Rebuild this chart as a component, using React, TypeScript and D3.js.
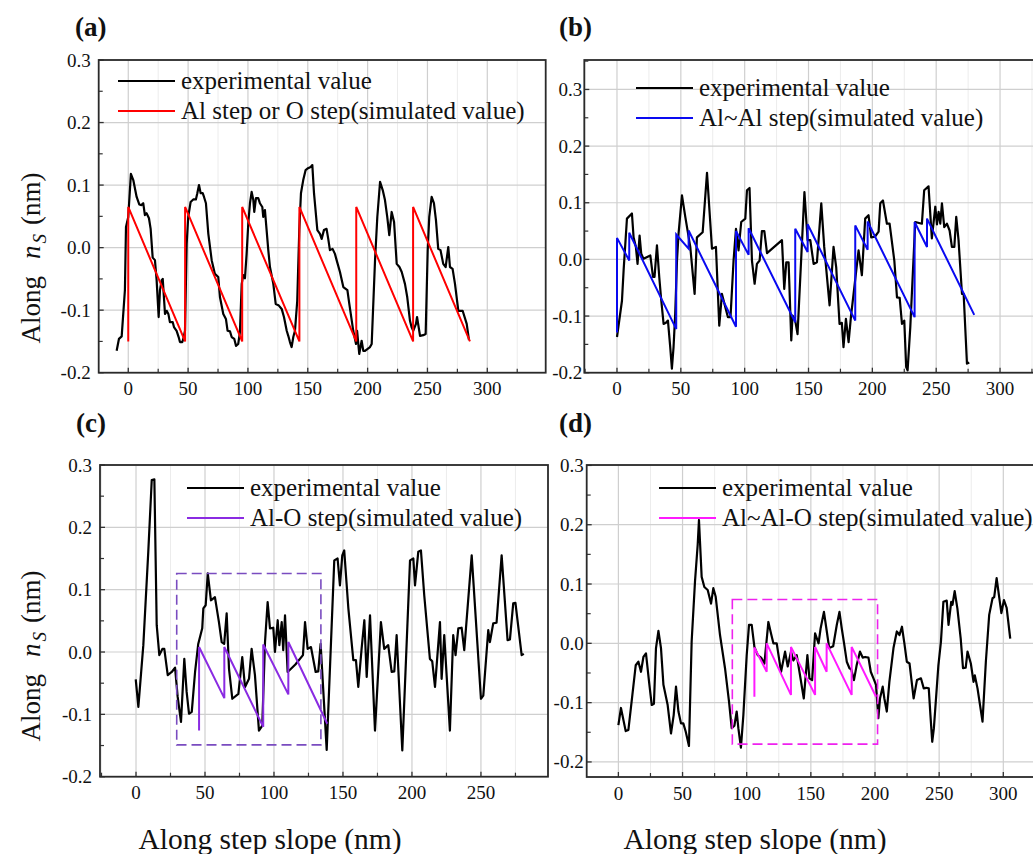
import React from 'react';
import * as d3 from 'd3';

type P = [number, number];

// ---------- data ----------
const expA: P[] = [[-9.7,-0.165],[-7.8,-0.146],[-5.5,-0.142],[-2.8,-0.068],[-1.9,0.033],[0,0.049],[2.2,0.118],[4.2,0.108],[7,0.081],[9.2,0.069],[11.1,0.068],[12.5,0.071],[13.9,0.052],[15.3,0.055],[17.3,0.047],[18.7,0.030],[20.4,-0.016],[22.3,-0.020],[23.7,-0.052],[25.4,-0.111],[26.5,-0.068],[27.9,-0.052],[28.8,-0.050],[30.7,-0.106],[32.1,-0.101],[33.5,-0.106],[34.8,-0.119],[37.1,-0.119],[38.2,-0.127],[40.4,-0.133],[42.1,-0.143],[43.2,-0.151],[45.1,-0.151],[46,-0.146],[47.4,-0.133],[48.8,0.006],[50.1,0.049],[52.1,0.073],[54.3,0.077],[56.5,0.077],[57.7,0.087],[59.1,0.100],[60.5,0.087],[62.2,0.087],[63.3,0.081],[64.9,0.071],[66.9,0.022],[69.7,-0.020],[72.4,-0.042],[75.2,-0.047],[76.6,-0.079],[79.4,-0.106],[81.6,-0.114],[83,-0.133],[85,-0.134],[86.4,-0.143],[88.6,-0.146],[90,-0.157],[91.9,-0.154],[93.3,-0.135],[94.8,-0.058],[96.1,-0.044],[97.5,-0.049],[98.9,-0.010],[100.3,0.039],[101.7,0.071],[103.1,0.089],[104.5,0.076],[105.3,0.057],[106.7,0.079],[108.6,0.079],[110,0.071],[112,0.065],[112.8,0.049],[114.2,0.060],[115.6,0.028],[117,-0.004],[118.4,-0.031],[121.2,-0.058],[123.2,-0.090],[125.5,-0.092],[128.2,-0.098],[130.1,-0.111],[132.4,-0.133],[133.7,-0.141],[135.1,-0.151],[136.5,-0.159],[137.9,-0.143],[139.3,-0.133],[141.2,-0.085],[142.9,0.028],[144.3,0.087],[146.2,0.108],[148.2,0.124],[150.2,0.127],[152.4,0.129],[153.8,0.132],[155.2,0.087],[158,0.028],[160.2,0.022],[161.6,0.014],[163.5,0.028],[165.7,0.030],[167.1,0.014],[168.5,-0.004],[170.7,-0.002],[172.7,-0.010],[174.1,-0.020],[176.9,-0.039],[179.7,-0.063],[183.1,-0.068],[184.7,-0.090],[188,-0.133],[190.3,-0.154],[191.2,-0.133],[193,-0.170],[195,-0.149],[196.4,-0.165],[197.8,-0.165],[202,-0.159],[203.4,-0.154],[206.2,-0.020],[208.1,0.049],[210.4,0.105],[212.6,0.092],[214.5,0.076],[216.4,0.049],[218.1,0.020],[220.1,0.057],[222.1,0.041],[224.3,-0.026],[226.6,-0.031],[228.5,-0.039],[231.2,-0.058],[233.1,-0.079],[235.4,-0.117],[236.7,-0.127],[238.1,-0.133],[240.4,-0.122],[241.3,-0.111],[243.8,-0.141],[246.5,-0.140],[248.5,-0.138],[250.2,-0.004],[251.5,0.049],[253.5,0.081],[255.4,0.071],[257.1,0.044],[259,-0.002],[260.9,-0.004],[263.2,-0.026],[265.2,-0.031],[267.4,0.001],[268.8,-0.031],[271,-0.034],[273,-0.058],[275.8,-0.101],[279.4,-0.101],[282.8,-0.122],[284.7,-0.148]];

const simA: P[] = [[0,-0.15],[0,0.065],[47.5,-0.15],[47.5,0.065],[95.2,-0.15],[95.2,0.065],[143,-0.15],[143,0.065],[190.5,-0.15],[190.5,0.065],[238,-0.15],[238,0.065],[285.5,-0.15]];

const expB: P[] = [[0,-0.137],[3.9,-0.073],[5.2,-0.019],[7.8,0.072],[11.7,0.081],[13,0.039],[14.8,0.022],[16.1,-0.008],[17.7,0.042],[19,0.010],[20.8,0.001],[26.1,0.007],[28.2,-0.031],[29.4,-0.031],[31.3,0.025],[33.1,-0.031],[34.7,-0.073],[36.5,-0.114],[38.3,-0.112],[39.9,-0.108],[41.7,-0.155],[43,-0.193],[44.3,-0.155],[45.6,-0.096],[47,-0.002],[48.2,0.045],[50.9,0.113],[53.5,0.075],[57.4,0.022],[60.8,-0.061],[62.6,0.039],[67.1,0.048],[70.5,0.153],[74.4,0.019],[77.5,0.022],[80.1,-0.117],[82.2,-0.061],[84.8,-0.084],[86.9,-0.102],[88.9,-0.102],[91.3,-0.002],[93.2,0.054],[95.2,0.016],[97.3,0.066],[100.5,0.072],[101.8,0.122],[103.8,0.126],[105.7,-0.002],[107.8,-0.043],[109.6,-0.008],[111.7,-0.002],[113.5,0.050],[115.4,0.050],[117.5,0.011],[129.2,0.034],[131,-0.052],[132.6,-0.005],[134.4,-0.005],[136.5,-0.143],[137.5,-0.099],[139.6,-0.108],[141.4,-0.132],[146.8,0.119],[149.3,0.034],[151.4,0.034],[154,-0.008],[156.6,-0.005],[160,0.099],[162.3,0.022],[166.5,-0.081],[169.6,0.022],[171.7,-0.014],[174.3,-0.114],[176.1,-0.112],[177.4,-0.155],[179.3,-0.105],[181.4,-0.146],[183.2,-0.102],[189.2,0.016],[191.8,-0.028],[194.4,0.072],[197,0.078],[199.1,0.039],[202,0.040],[204.9,0.049],[206.2,0.099],[208.3,0.104],[211.4,0.063],[213.5,0.063],[217.2,-0.002],[219.3,-0.067],[221.4,-0.068],[223.2,-0.114],[225,-0.108],[226.5,-0.19],[227.6,-0.196],[229.7,-0.12],[233.6,0.066],[238.8,0.063],[240.6,0.122],[244,0.129],[246.6,0.037],[249.3,0.093],[250.6,0.062],[251.9,0.084],[253.2,0.063],[254.5,0.099],[256.3,0.057],[258.4,0.063],[260.5,0.051],[262.3,0.022],[264.2,0.022],[265.7,0.075],[267.5,0.034],[270.2,-0.061],[271.5,-0.061],[274.1,-0.184],[275.9,-0.182]];

const simB: P[] = [[0,-0.129],[0,0.038],[9.6,-0.002],[9.6,0.047],[46.4,-0.123],[46.4,0.044],[56.1,0.019],[56.1,0.051],[93.2,-0.119],[93.2,0.050],[103.1,0.008],[103.1,0.055],[139.6,-0.111],[139.6,0.054],[149.3,0.013],[149.3,0.062],[186.6,-0.108],[186.6,0.060],[196.3,0.017],[196.3,0.067],[233.1,-0.102],[233.1,0.066],[242.8,0.022],[242.8,0.072],[279.8,-0.098]];

const expC: P[] = [[-0.2,-0.044],[1.7,-0.088],[5.3,0.011],[8.9,0.161],[11.4,0.276],[13.3,0.277],[15,0.043],[16.9,-0.005],[19.1,0.005],[20.5,0.005],[23,-0.037],[25.9,-0.032],[28.3,-0.025],[30.2,-0.072],[32.6,-0.112],[35,-0.011],[36.7,-0.064],[38.4,-0.099],[40.4,-0.096],[42.8,-0.032],[45.1,0.013],[48,0.038],[48.8,0.070],[50.5,0.075],[52,0.126],[54.3,0.083],[57.2,0.088],[60.1,0.048],[62.1,0.016],[63.9,0.013],[65.7,0.062],[67.4,-0.027],[69.8,-0.075],[74.2,-0.067],[77,-0.008],[79,-0.056],[81.9,-0.043],[83.8,0.005],[86.2,-0.037],[89.1,-0.126],[91.5,-0.118],[93.5,0.016],[95.4,0.080],[97.1,0.038],[99.5,0.039],[100.7,0],[102.7,0.051],[103.9,0.011],[105.6,0.048],[106.7,0.003],[108,0.059],[109.9,-0.032],[115.5,-0.02],[121,-0.005],[122.5,0.048],[124.4,0.005],[126.8,0.008],[130.2,-0.032],[132.1,-0.031],[133.8,0.013],[138.2,-0.157],[143.7,0.147],[146.1,0.150],[147.8,0.107],[149.5,0.155],[150.9,0.163],[153.9,0.070],[157.5,-0.013],[159.4,-0.013],[161.1,-0.056],[163.5,0.005],[165.5,0.051],[167.2,-0.040],[169.6,0.059],[173.2,-0.126],[177.5,0.048],[179.9,0.005],[182.8,0.011],[185.3,-0.032],[187.2,-0.031],[188.9,0.027],[193,-0.158],[198.6,0.147],[201,0.150],[202.2,0.107],[204.6,0.161],[206.5,0.163],[208.9,0.091],[213,-0.011],[214.7,-0.015],[216.7,-0.056],[220.3,0.048],[221.5,-0.043],[223.4,0.027],[227.5,-0.126],[229.9,0.027],[231.6,-0.005],[233.6,0.038],[236,0.039],[237.9,0.003],[243.3,0.155],[250,-0.075],[251.7,-0.070],[255.3,0.035],[256.5,0.016],[258.9,0.046],[261.3,0.047],[265,0.155],[269.3,0.019],[271,0.020],[273.4,0.078],[275,0.079],[279.5,-0.005],[281.1,-0.003]];

const simC: P[] = [[45.7,-0.126],[45.7,0.008],[64,-0.074],[64,0.008],[92.2,-0.120],[92.2,0.012],[110.4,-0.068],[110.4,0.016],[138.6,-0.115]];

const expD: P[] = [[0,-0.138],[2,-0.109],[5.7,-0.148],[7.8,-0.146],[10.9,-0.087],[13.5,-0.037],[15.6,-0.031],[17.6,-0.048],[19.5,-0.023],[21.5,-0.017],[23.9,-0.065],[26,-0.104],[27.7,-0.102],[29.3,-0.008],[31.2,0.021],[33.2,-0.008],[35.1,-0.070],[38.4,-0.104],[41,-0.152],[43.1,-0.121],[44.9,-0.073],[46.8,-0.115],[48.8,-0.135],[50.6,-0.135],[52.5,-0.149],[55,-0.173],[57.1,0.003],[59.7,0.104],[61.8,0.166],[62.8,0.208],[64.9,0.112],[67,0.095],[69.6,0.090],[72.2,0.067],[74,0.093],[75.8,0.079],[79.2,0.014],[83.1,-0.042],[86.2,-0.098],[88.3,-0.143],[90.4,-0.139],[92.2,-0.115],[93.5,-0.143],[95.5,-0.176],[97.4,-0.121],[100,-0.020],[101.8,0.031],[103.9,0.031],[106,-0.006],[108.6,-0.020],[111.2,-0.024],[113.8,-0.034],[116.9,0.036],[119,0.016],[120.8,0],[123.4,0],[126.8,-0.048],[129.9,-0.014],[132,-0.039],[134.5,-0.014],[136.4,-0.029],[139,-0.02],[144.5,-0.093],[147.3,-0.020],[148.9,-0.059],[151,-0.062],[153.3,0.017],[156,0],[157.6,0.025],[160.2,0.053],[162.3,0.022],[164.3,-0.008],[167.4,-0.005],[170.2,0.031],[172.3,0.053],[174.1,0.025],[175.9,0],[178,-0.031],[180.1,-0.042],[181.5,-0.044],[183.6,-0.062],[185.7,-0.037],[188.3,-0.014],[190.4,-0.024],[192.3,-0.023],[194.9,-0.024],[196.7,-0.048],[198.8,-0.059],[200.8,-0.070],[202.6,-0.126],[203.9,-0.093],[206,-0.073],[207.3,-0.093],[209.2,-0.115],[211.2,-0.065],[214.4,-0.008],[217,0.020],[219.1,0.014],[221,0.028],[222.9,0],[224.8,-0.031],[226.9,-0.034],[230.1,-0.093],[232.7,-0.062],[235.8,-0.059],[238,-0.076],[240,-0.075],[241.9,-0.076],[243.2,-0.121],[244.6,-0.166],[245.9,-0.143],[249.4,-0.037],[251.4,0.003],[253.3,0.070],[255.9,0.072],[257.3,0.031],[259.4,0.070],[260.4,0.065],[262.1,0.088],[264.2,0.059],[266.8,0.008],[268.6,-0.042],[270.7,-0.041],[272.1,-0.014],[274.7,-0.034],[276.8,-0.065],[277.8,-0.054],[279.9,-0.076],[283.8,-0.132],[286.4,-0.031],[289,0.048],[291.6,0.076],[292.9,0.078],[294.8,0.110],[296.6,0.081],[298.5,0.051],[300.5,0.073],[302.6,0.060],[305.4,0.008]];

const simD: P[] = [[106,-0.090],[106,-0.007],[115.6,-0.048],[115.6,0],[134.5,-0.087],[134.5,-0.006],[153.3,-0.087],[153.3,-0.006],[162.3,-0.048],[162.3,0],[181.8,-0.087],[181.8,-0.006],[200.8,-0.090]];

// dashed highlight boxes: [x0, x1, y0, y1]
const boxC = [29.5, 134, -0.149, 0.126];
const boxD = [88.8, 202, -0.170, 0.074];

const xTicks = [0, 50, 100, 150, 200, 250, 300];
const yTicks = [-0.2, -0.1, 0, 0.1, 0.2, 0.3];
const panelLabels = ['(a)', '(b)', '(c)', '(d)'];
const expLabel = 'experimental value';
const simLabels = ['Al step or O step(simulated value)', 'Al~Al step(simulated value)', 'Al-O step(simulated value)', 'Al~Al-O step(simulated value)'];
const xTitle = 'Along step slope (nm)';

const FONT = '"Liberation Serif", "Times New Roman", serif';

interface Cfg {
  id: string;
  label: string;
  labelPos: [number, number];
  frame: { l: number; r: number; t: number; b: number };
  xDomain: [number, number];
  yDomain: [number, number];
  labelGap: number;
  exp: P[];
  sim: P[];
  simColor: string;
  simLabel: string;
  legend: [number, number];
  box?: number[];
  boxColor?: string;
}

const fmtY = (v: number) => (v < 0 ? '-' : '') + Math.abs(v).toFixed(1);

function Panel({ c }: { c: Cfg }) {
  const { l, r, t, b } = c.frame;
  const x = d3.scaleLinear().domain(c.xDomain).range([l, r]);
  const y = d3.scaleLinear().domain(c.yDomain).range([b, t]);
  const line = d3.line<P>().x(d => x(d[0])).y(d => y(d[1]));
  const inX = (v: number) => v >= c.xDomain[0] && v <= c.xDomain[1];
  const inY = (v: number) => v >= c.yDomain[0] - 1e-9 && v <= c.yDomain[1] + 1e-9;
  const xMaj = xTicks.filter(inX);
  const xMin = d3.range(-25, c.xDomain[1], 50).filter(inX);
  const yMaj = yTicks.filter(inY);
  const yMin = d3.range(-0.15, c.yDomain[1], 0.1).filter(inY);
  const clipId = 'clip-' + c.id;
  return (
    <g>
      <defs>
        <clipPath id={clipId}>
          <rect x={l} y={t} width={r - l} height={b - t} />
        </clipPath>
      </defs>
      {/* grid */}
      {xMin.map(v => (
        <line key={'gxm' + v} x1={x(v)} x2={x(v)} y1={t} y2={b} stroke="#ececec" strokeWidth={1} />
      ))}
      {xMaj.map(v => (
        <line key={'gx' + v} x1={x(v)} x2={x(v)} y1={t} y2={b} stroke="#cfcfcf" strokeWidth={1.2} />
      ))}
      {yMaj.map(v => (
        <line key={'gy' + v} x1={l} x2={r} y1={y(v)} y2={y(v)} stroke="#cfcfcf" strokeWidth={1.2} />
      ))}
      {/* ticks */}
      {xMaj.map(v => (
        <line key={'tx' + v} x1={x(v)} x2={x(v)} y1={b} y2={b - 5} stroke="#333" strokeWidth={1.3} />
      ))}
      {xMin.map(v => (
        <line key={'txm' + v} x1={x(v)} x2={x(v)} y1={b} y2={b - 4} stroke="#333" strokeWidth={1.2} />
      ))}
      {yMaj.map(v => (
        <line key={'ty' + v} x1={l} x2={l + 5} y1={y(v)} y2={y(v)} stroke="#333" strokeWidth={1.3} />
      ))}
      {yMin.map(v => (
        <line key={'tym' + v} x1={l} x2={l + 4} y1={y(v)} y2={y(v)} stroke="#333" strokeWidth={1.2} />
      ))}
      {/* data */}
      <g clipPath={`url(#${clipId})`}>
        <path d={line(c.exp) || ''} fill="none" stroke="#000" strokeWidth={2.2} strokeLinejoin="round" />
        <path d={line(c.sim) || ''} fill="none" stroke={c.simColor} strokeWidth={2} />
        {c.box && (
          <rect x={x(c.box[0])} y={y(c.box[3])} width={x(c.box[1]) - x(c.box[0])} height={y(c.box[2]) - y(c.box[3])}
            fill="none" stroke={c.boxColor} strokeWidth={1.6} strokeDasharray="10 5" />
        )}
      </g>
      {/* frame */}
      <rect x={l} y={t} width={r - l} height={b - t} fill="none" stroke="#2a2a2a" strokeWidth={1.8} />
      {/* tick labels */}
      {yMaj.map(v => (
        <text key={'ly' + v} x={l - c.labelGap} y={y(v) + 6.5} textAnchor="end" fontSize={19} fontFamily={FONT} fill="#111">
          {fmtY(v)}
        </text>
      ))}
      {xMaj.map(v => (
        <text key={'lx' + v} x={x(v)} y={b + 22.5} textAnchor="middle" fontSize={19} fontFamily={FONT} fill="#111">
          {v}
        </text>
      ))}
      {/* legend */}
      <g fontFamily={FONT} fontSize={25} fill="#111">
        <line x1={c.legend[0]} x2={c.legend[0] + 57} y1={c.legend[1]} y2={c.legend[1]} stroke="#000" strokeWidth={2} />
        <text x={c.legend[0] + 63} y={c.legend[1] + 8}>{expLabel}</text>
        <line x1={c.legend[0]} x2={c.legend[0] + 57} y1={c.legend[1] + 30} y2={c.legend[1] + 30} stroke={c.simColor} strokeWidth={2} />
        <text x={c.legend[0] + 63} y={c.legend[1] + 38}>{c.simLabel}</text>
      </g>
      <text x={c.labelPos[0]} y={c.labelPos[1]} fontSize={27} fontWeight="bold" fontFamily={FONT} fill="#111">
        {c.label}
      </text>
    </g>
  );
}

const panels: Cfg[] = [
  {
    id: 'a', label: panelLabels[0], labelPos: [75, 36],
    frame: { l: 98.7, r: 545.7, t: 60, b: 372.7 },
    xDomain: [-24.7, 348.8], yDomain: [-0.2, 0.3], labelGap: 8,
    exp: expA, sim: simA, simColor: '#ff0000', simLabel: simLabels[0], legend: [118, 81],
  },
  {
    id: 'b', label: panelLabels[1], labelPos: [559, 36],
    frame: { l: 584.3, r: 1040, t: 60, b: 372.7 },
    xDomain: [-25.6, 331.3], yDomain: [-0.2, 0.352], labelGap: 2,
    exp: expB, sim: simB, simColor: '#0a0af0', simLabel: simLabels[1], legend: [636, 88],
  },
  {
    id: 'c', label: panelLabels[2], labelPos: [76, 432],
    frame: { l: 100, r: 548, t: 465, b: 776.7 },
    xDomain: [-26.1, 298.6], yDomain: [-0.2, 0.3], labelGap: 8,
    exp: expC, sim: simC, simColor: '#8a2be2', simLabel: simLabels[2], legend: [187, 488],
    box: boxC, boxColor: '#7a4cc0',
  },
  {
    id: 'd', label: panelLabels[3], labelPos: [559, 432],
    frame: { l: 586.7, r: 1040, t: 465, b: 777 },
    xDomain: [-24.7, 328.6], yDomain: [-0.2254, 0.3007], labelGap: 3,
    exp: expD, sim: simD, simColor: '#ff1aff', simLabel: simLabels[3], legend: [659, 488],
    box: boxD, boxColor: '#ee22ee',
  },
];

function YTitle({ cx, cy }: { cx: number; cy: number }) {
  return (
    <text transform={`translate(${cx},${cy}) rotate(-90)`} textAnchor="middle" fontFamily={FONT} fontSize={27} fill="#111">
      Along
      <tspan dx={17} fontStyle="italic">n</tspan>
      <tspan dx={2} dy={6} fontStyle="italic" fontSize={19}>S</tspan>
      <tspan dx={9} dy={-6}>(nm)</tspan>
    </text>
  );
}

export default function App() {
  return (
    <svg width={1033} height={854} viewBox="0 0 1033 854"
      style={{ position: 'absolute', left: 0, top: 0, background: '#fff', display: 'block' }}>
      <rect x={0} y={0} width={1033} height={854} fill="#fff" />
      {panels.map(p => <Panel key={p.id} c={p} />)}
      <YTitle cx={40} cy={258} />
      <YTitle cx={40} cy={656} />
      <text x={270} y={849} textAnchor="middle" fontFamily={FONT} fontSize={29.5} fill="#111">{xTitle}</text>
      <text x={755} y={849} textAnchor="middle" fontFamily={FONT} fontSize={29.5} fill="#111">{xTitle}</text>
    </svg>
  );
}
